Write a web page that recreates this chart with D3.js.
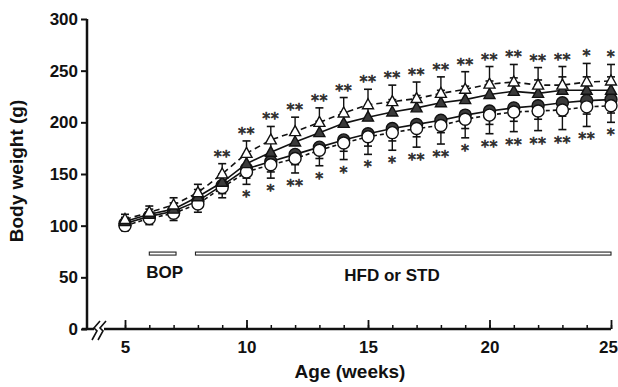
<!DOCTYPE html>
<html>
<head>
<meta charset="utf-8">
<script src="https://cdn.jsdelivr.net/npm/d3@7"></script>
<style>
  html, body { margin: 0; padding: 0; background: #fff; }
  svg { display: block; }
  text { font-family: "Liberation Sans", Arial, sans-serif; fill: #111; }
</style>
</head>
<body>
<svg id="chart" width="618" height="387"></svg>
<script>
// ---- data ----
const weeks = [5,6,7,8,9,10,11,12,13,14,15,16,17,18,19,20,21,22,23,24,25];
const openTri     = [106,113,120,132,150,170,183,191,200,209,217,220,223,228,232,237,239,236,236,239,240];
const filledTri   = [104,111,116,128,142,160,171,181,190,199,205,210,214,219,222,227,230,228,231,231,231];
const filledCirc  = [102,109,114,124,139,155,162,169,176,183,189,194,198,202,207,211,214,216,219,221,222];
const openCirc    = [100,107,112,121,137,152,159,165,173,180,186,190,194,197,203,207,210,211,212,215,216];
const openTriErr  = [5,6,7,8,10,12,13,14,14,15,15,16,16,16,17,17,17,17,18,18,16];
const filledTriErr= [4,5,6,7,8,9,10,10,11,11,12,12,12,12,13,13,13,13,13,13,13];
const filledCircErr=[4,5,6,7,8,9,10,10,11,11,12,12,12,12,13,13,13,13,13,13,13];
const openCircErr = [5,6,7,8,10,12,13,14,15,16,17,17,18,18,18,18,19,19,19,19,16];
const starsAbove  = ["","","","","**","**","**","**","**","**","**","**","**","**","**","**","**","**","**","*","*"];
const starsBelow  = ["","","","","","*","*","**","*","*","*","*","**","**","*","**","**","**","**","**","*"];
const yTicks = [0,50,100,150,200,250,300];
const xLabels = [5,10,15,20,25];
const bopPeriod = [6, 7.1];
const dietPeriod = [7.9, 25];
const periodLevel = 73;

// ---- layout ----
const svg = d3.select("#chart");
const x = d3.scaleLinear().domain([5,25]).range([125,611]);
const y = d3.scaleLinear().domain([0,300]).range([329,19]);
const axisX0 = 87;

// Y axis
const gy = svg.append("g").attr("transform", `translate(${axisX0},0)`)
  .call(d3.axisLeft(y).tickValues(yTicks).tickSize(6).tickPadding(3));
gy.select(".domain").remove();
gy.selectAll(".tick line").attr("stroke", "#111").attr("stroke-width", 2);
gy.selectAll(".tick text").attr("font-size", 17).attr("font-weight", "bold")
  .style("font-family", '"Liberation Sans", Arial, sans-serif').attr("fill", "#111");
svg.append("line").attr("x1", axisX0).attr("x2", axisX0).attr("y1", y(300)).attr("y2", y(0)+1)
  .attr("stroke", "#111").attr("stroke-width", 2.5);

// X axis (ticks point inward)
const gxMinor = svg.append("g").attr("transform", `translate(0,${y(0)})`)
  .call(d3.axisBottom(x).tickValues(weeks).tickSize(-4).tickFormat(""));
gxMinor.select(".domain").remove();
gxMinor.selectAll(".tick line").attr("stroke", "#111").attr("stroke-width", 1.5);
const gx = svg.append("g").attr("transform", `translate(0,${y(0)})`)
  .call(d3.axisBottom(x).tickValues(xLabels).tickSize(-9).tickPadding(12));
gx.select(".domain").remove();
gx.selectAll(".tick line").attr("stroke", "#111").attr("stroke-width", 1.8);
gx.selectAll(".tick text").attr("font-size", 17).attr("font-weight", "bold")
  .style("font-family", '"Liberation Sans", Arial, sans-serif').attr("fill", "#111")
  .attr("dx", d => d === 25 ? -3 : 0);

// axis line with break
svg.append("line").attr("x1", axisX0 - 5).attr("x2", 94).attr("y1", y(0)).attr("y2", y(0))
  .attr("stroke", "#111").attr("stroke-width", 2.5);
svg.append("line").attr("x1", 104).attr("x2", x(25)).attr("y1", y(0)).attr("y2", y(0))
  .attr("stroke", "#111").attr("stroke-width", 2.5);
[0, 6].forEach(off => {
  svg.append("path")
    .attr("d", `M${92+off},${y(0)+11} L${97+off},${y(0)+2} L${94+off},${y(0)-1} L${100+off},${y(0)-8}`)
    .attr("fill", "none").attr("stroke", "#111").attr("stroke-width", 1.6);
});

// Axis titles
svg.append("text").attr("x", 350).attr("y", 378).attr("text-anchor", "middle")
  .attr("font-size", 19).attr("font-weight", "bold").text("Age (weeks)");
svg.append("text").attr("transform", "translate(23,171) rotate(-90)").attr("text-anchor", "middle")
  .attr("font-size", 19).attr("font-weight", "bold").text("Body weight (g)");

// Period bars
function periodBar(p) {
  svg.append("rect").attr("x", x(p[0])).attr("y", y(periodLevel) - 1.5)
    .attr("width", x(p[1]) - x(p[0])).attr("height", 3)
    .attr("fill", "#fff").attr("stroke", "#222").attr("stroke-width", 1.1);
}
periodBar(bopPeriod);
periodBar(dietPeriod);
svg.append("text").attr("x", (x(bopPeriod[0]) + x(bopPeriod[1])) / 2 + 2).attr("y", 278)
  .attr("text-anchor", "middle").attr("font-size", 17).attr("font-weight", "bold").text("BOP");
svg.append("text").attr("x", 392).attr("y", 281)
  .attr("text-anchor", "middle").attr("font-size", 17).attr("font-weight", "bold").text("HFD or STD");

// Series
const series = [
  {vals: filledCirc, err: filledCircErr, dash: null, shape: "circle", fill: "#3a3a3a", dir: -1},
  {vals: openCirc, err: openCircErr, dash: "4,3", shape: "circle", fill: "#fff", dir: -1},
  {vals: filledTri, err: filledTriErr, dash: null, shape: "tri", fill: "#3a3a3a", dir: 1},
  {vals: openTri, err: openTriErr, dash: "6,4", shape: "tri", fill: "#fff", dir: 1}
];
const line = d3.line().x((d, i) => x(weeks[i])).y(d => y(d));

series.forEach(s => {
  svg.append("path").datum(s.vals).attr("d", line)
    .attr("fill", "none").attr("stroke", "#111").attr("stroke-width", 1.6)
    .attr("stroke-dasharray", s.dash);
});

series.forEach(s => {
  const g = svg.append("g");
  weeks.forEach((w, i) => {
    const cx = x(w), cy = y(s.vals[i]);
    const ey = y(s.vals[i] + s.dir * s.err[i]);
    g.append("line").attr("x1", cx).attr("x2", cx).attr("y1", cy).attr("y2", ey)
      .attr("stroke", "#111").attr("stroke-width", 1.4);
    g.append("line").attr("x1", cx - 4).attr("x2", cx + 4).attr("y1", ey).attr("y2", ey)
      .attr("stroke", "#111").attr("stroke-width", 1.6);
  });
});

series.forEach(s => {
  const g = svg.append("g");
  weeks.forEach((w, i) => {
    const cx = x(w), cy = y(s.vals[i]);
    if (s.shape === "circle") {
      g.append("circle").attr("cx", cx).attr("cy", cy).attr("r", 6)
        .attr("fill", s.fill).attr("stroke", "#111").attr("stroke-width", 1.4);
    } else {
      g.append("path").attr("d", `M${cx},${cy-6} L${cx+5.5},${cy+4} L${cx-5.5},${cy+4} Z`)
        .attr("fill", s.fill).attr("stroke", "#111").attr("stroke-width", 1.4);
    }
  });
});

// Significance asterisks
function star(xp, yc, txt) {
  svg.append("text").attr("x", xp).attr("y", yc + 7)
    .attr("text-anchor", "middle").attr("font-size", 16)
    .style("font-family", '"DejaVu Sans", sans-serif')
    .attr("fill", "#fff").attr("stroke", "#333").attr("stroke-width", 0.7)
    .attr("letter-spacing", 0.5)
    .text(txt);
}
weeks.forEach((w, i) => {
  if (starsAbove[i]) star(x(w), y(openTri[i] + openTriErr[i]) - 9, starsAbove[i]);
  if (starsBelow[i]) star(x(w), y(openCirc[i] - openCircErr[i]) + 11, starsBelow[i]);
});
</script>
</body>
</html>
